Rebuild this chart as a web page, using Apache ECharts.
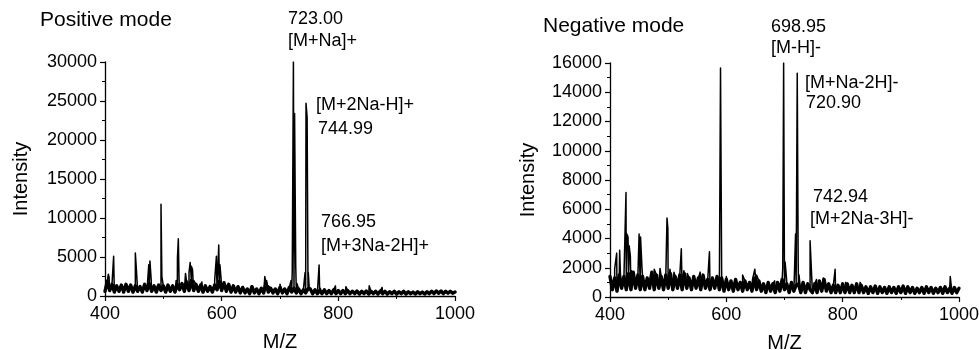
<!DOCTYPE html>
<html>
<head>
<meta charset="utf-8">
<script src="https://cdn.jsdelivr.net/npm/echarts@6/dist/echarts.min.js"></script>
<style>
html,body{margin:0;padding:0;background:#fff;}
#c{width:979px;height:350px;}
</style>
</head>
<body>
<div id="c"></div>
<script>
// ---------- DATA ----------
var xTicks = [400, 600, 800, 1000];
var posYTicks = [0, 5000, 10000, 15000, 20000, 25000, 30000];
var negYTicks = [0, 2000, 4000, 6000, 8000, 10000, 12000, 14000, 16000];

// Positive mode: baseline noise [m/z, intensity]
var posNoise = [
[400,600],[404,1900],[408,700],[412,1500],[416,500],[420,1300],[424,600],[428,1400],[432,500],[436,1500],
[440,600],[444,1400],[448,500],[452,1300],[456,600],[460,1200],[464,500],[468,1500],[472,700],[476,1600],
[480,600],[484,1300],[488,500],[492,1400],[496,700],[500,1300],[504,500],[508,1400],[512,600],[516,1300],
[520,500],[524,1500],[528,800],[532,1600],[536,600],[540,1800],[544,700],[548,2000],[552,700],[556,1500],
[560,600],[564,1400],[568,500],[572,1300],[576,600],[580,1200],[584,500],[588,1400],[592,800],[596,1900],
[600,700],[604,1700],[608,600],[612,1500],[616,500],[620,1300],[624,500],[628,1200],[632,400],[636,1100],
[640,400],[644,900],[648,300],[652,1200],[656,400],[660,900],[664,300],[668,1000],[672,400],[676,1600],
[680,500],[684,1000],[688,400],[692,900],[696,300],[700,1100],[704,400],[708,900],[712,300],[716,1100],
[720,500],[724,1000],[728,400],[732,900],[736,300],[740,800],[744,400],[748,900],[752,900],[756,300],
[760,800],[764,300],[768,700],[772,300],[776,800],[780,300],[784,700],[788,300],[792,800],[796,300],
[800,700],[804,300],[808,700],[812,300],[816,700],[820,300],[824,600],[828,300],[832,650],[836,250],
[840,600],[844,300],[848,650],[852,250],[856,600],[860,300],[864,600],[868,250],[872,650],[876,300],
[880,600],[884,250],[888,550],[892,300],[896,600],[900,250],[904,550],[908,300],[912,600],[916,250],
[920,550],[924,300],[928,500],[932,250],[936,550],[940,300],[944,500],[948,250],[952,550],[956,300],
[960,600],[964,300],[968,650],[972,350],[976,650],[980,300],[984,600],[988,350],[992,600],[996,350],[1000,500]
];
// Positive mode: peaks [m/z, intensity]
var posPeaks = [
[405.7,2800],[407,2400],[414.8,5100],[452,5500],[453.5,3800],[470,1600],[475,4000],[477,4500],[479,2300],
[490,1300],[496,11750],[497.5,2500],[522,2000],[524.2,4900],[525.7,7350],[527,2000],[538,2900],[544,3000],
[546,4300],[548,3800],[550,3400],[552,2000],[566,1800],[588,2000],[591,5100],[593,2500],[595,6550],[597,4000],
[599,2200],[651,1300],[674,2500],[677,2000],[680,1300],[700,1500],[719,2000],[721,3200],[723,30000],[725,23400],
[727,3800],[729,1600],[743,3000],[744.6,24700],[746.5,22900],[748.5,3000],[750,1200],[767,3970],[769,1000],
[795,1300],[813,1200],[853,1300],[875,1100]
];

// Negative mode: baseline noise [m/z, intensity]
var negNoise = [
[400,1400],[404,500],[408,1300],[412,400],[416,1500],[420,600],[424,1400],[428,500],[432,1600],[436,500],
[440,1700],[444,600],[448,1500],[452,500],[456,1400],[460,500],[464,1300],[468,600],[472,1700],[476,500],
[480,1500],[484,600],[488,1400],[492,500],[496,1500],[500,600],[504,1600],[508,500],[512,1400],[516,600],
[520,1500],[524,500],[528,1600],[532,600],[536,1300],[540,500],[544,1400],[548,600],[552,1300],[556,500],
[560,1500],[564,600],[568,1200],[572,500],[576,1300],[580,600],[584,1400],[588,500],[592,1300],[596,400],
[600,1200],[604,500],[608,1100],[612,400],[616,1200],[620,500],[624,1000],[628,400],[632,1100],[636,500],
[640,1000],[644,400],[648,1300],[652,500],[656,1100],[660,400],[664,900],[668,300],[672,1000],[676,400],
[680,900],[684,300],[688,1000],[692,400],[696,1200],[700,500],[704,900],[708,300],[712,1000],[716,400],
[720,800],[724,900],[728,300],[732,1000],[736,300],[740,900],[744,500],[748,300],[752,900],[756,300],
[760,1100],[764,400],[768,1200],[772,400],[776,900],[780,300],[784,800],[788,300],[792,800],[796,300],
[800,900],[804,300],[808,900],[812,300],[816,800],[820,300],[824,900],[828,300],[832,800],[836,300],
[840,700],[844,250],[848,700],[852,300],[856,750],[860,250],[864,700],[868,300],[872,650],[876,250],
[880,700],[884,300],[888,650],[892,250],[896,700],[900,300],[904,750],[908,250],[912,700],[916,300],
[920,650],[924,250],[928,600],[932,300],[936,650],[940,250],[944,700],[948,300],[952,650],[956,250],
[960,600],[964,300],[968,650],[972,250],[976,700],[980,300],[984,600],[988,250],[992,650],[996,300],[1000,600]
];
// Negative mode: peaks [m/z, intensity]
var negPeaks = [
[408,1900],[411.5,3000],[413,1200],[416.6,3200],[418,1500],[427.5,7150],[429,4300],[431,4100],[433,3500],
[435,2800],[437,1800],[450,4300],[452.5,4100],[455,2000],[470,1600],[476,1900],[486,1950],[498,5400],
[499.5,4700],[503,1900],[510,1700],[522.6,3300],[527,1800],[533,1600],[545,1500],[555,1700],[561,1500],
[571,3100],[575,1300],[590,15650],[592,1300],[600,1400],[615,1200],[628,1500],[645,1200],[649,1900],
[652,1500],[655,1200],[683,1100],[697,2000],[698.5,16000],[699.5,16000],[701,2400],[703,1500],[717,1500],
[719,4300],[721.9,15300],[723.5,2500],[725,1500],[744,3850],[755,1200],[766.6,1300],[787,1900],[805,1000],
[830,1000],[985,1400]
];

var posTitle = 'Positive mode';
var negTitle = 'Negative mode';
var posLabels = ['723.00', '[M+Na]+', '[M+2Na-H]+', '744.99', '766.95', '[M+3Na-2H]+'];
var negLabels = ['698.95', '[M-H]-', '[M+Na-2H]-', '720.90', '742.94', '[M+2Na-3H]-'];

// ---------- BUILD ----------
function merge(a, b) {
  return a.concat(b).slice().sort(function (p, q) { return p[0] - q[0]; });
}
var FONT = 'Arial, "Liberation Sans", sans-serif';

function xAxisCfg(gi) {
  return {
    gridIndex: gi, type: 'value', min: 400, max: 1000, interval: 200,
    name: 'M/Z', nameLocation: 'middle', nameGap: 36,
    nameTextStyle: { color: '#000', fontSize: 20, fontFamily: FONT },
    axisLine: { show: true, lineStyle: { color: '#000', width: 1.3 } },
    axisTick: { show: true, inside: false, length: 5, lineStyle: { color: '#000', width: 1.2 } },
    minorTick: { show: true, splitNumber: 2, length: 3, lineStyle: { color: '#000', width: 1 } },
    axisLabel: { color: '#000', fontSize: 18, fontFamily: FONT, margin: 9, formatter: function (v) { return String(v); } },
    splitLine: { show: false }
  };
}
function yAxisCfg(gi, max, interval, gap) {
  return {
    gridIndex: gi, type: 'value', min: 0, max: max, interval: interval,
    name: 'Intensity', nameLocation: 'middle', nameGap: gap,
    nameTextStyle: { color: '#000', fontSize: 20, fontFamily: FONT },
    axisLine: { show: true, lineStyle: { color: '#000', width: 1.3 } },
    axisTick: { show: true, inside: false, length: 5, lineStyle: { color: '#000', width: 1.2 } },
    minorTick: { show: true, splitNumber: 2, length: 3, lineStyle: { color: '#000', width: 1 } },
    axisLabel: { color: '#000', fontSize: 18, fontFamily: FONT, margin: 8, formatter: function (v) { return String(v); } },
    splitLine: { show: false }
  };
}
function txt(x, y, s, size) {
  return { type: 'text', left: x, top: y, style: { text: s, fill: '#000', font: (size || 18) + 'px ' + FONT } };
}
function lineSeries(ai, data, w) {
  return { type: 'line', xAxisIndex: ai, yAxisIndex: ai, data: data,
    showSymbol: false, symbol: 'none', sampling: null, clip: true, silent: true,
    lineStyle: { color: '#000', width: w, join: 'round', cap: 'round' } };
}

var chart = echarts.init(document.getElementById('c'), null, { renderer: 'canvas' });
chart.setOption({
  animation: false,
  backgroundColor: '#fff',
  grid: [
    { left: 105, right: 524, top: 62, bottom: 54, outerBoundsMode: 'none', containLabel: false },
    { left: 610, right: 20, top: 63, bottom: 53, outerBoundsMode: 'none', containLabel: false }
  ],
  xAxis: [xAxisCfg(0), xAxisCfg(1)],
  yAxis: [yAxisCfg(0, 30000, 5000, 74), yAxisCfg(1, 16000, 2000, 72)],
  series: [
    lineSeries(0, posNoise, 3.4),
    lineSeries(0, merge(posNoise, posPeaks), 1.5),
    lineSeries(1, negNoise, 3.4),
    lineSeries(1, merge(negNoise, negPeaks), 1.5)
  ],
  graphic: [
    txt(40, 10, posTitle, 21),
    txt(288, 10, posLabels[0]),
    txt(288, 32, posLabels[1]),
    txt(316, 96, posLabels[2]),
    txt(318, 120, posLabels[3]),
    txt(321, 213, posLabels[4]),
    txt(321, 237, posLabels[5]),
    txt(543, 16, negTitle, 21),
    txt(771, 18, negLabels[0]),
    txt(771, 39, negLabels[1]),
    txt(805, 74, negLabels[2]),
    txt(806, 94, negLabels[3]),
    txt(813, 188, negLabels[4]),
    txt(810, 210, negLabels[5])
  ]
});
</script>
</body>
</html>
